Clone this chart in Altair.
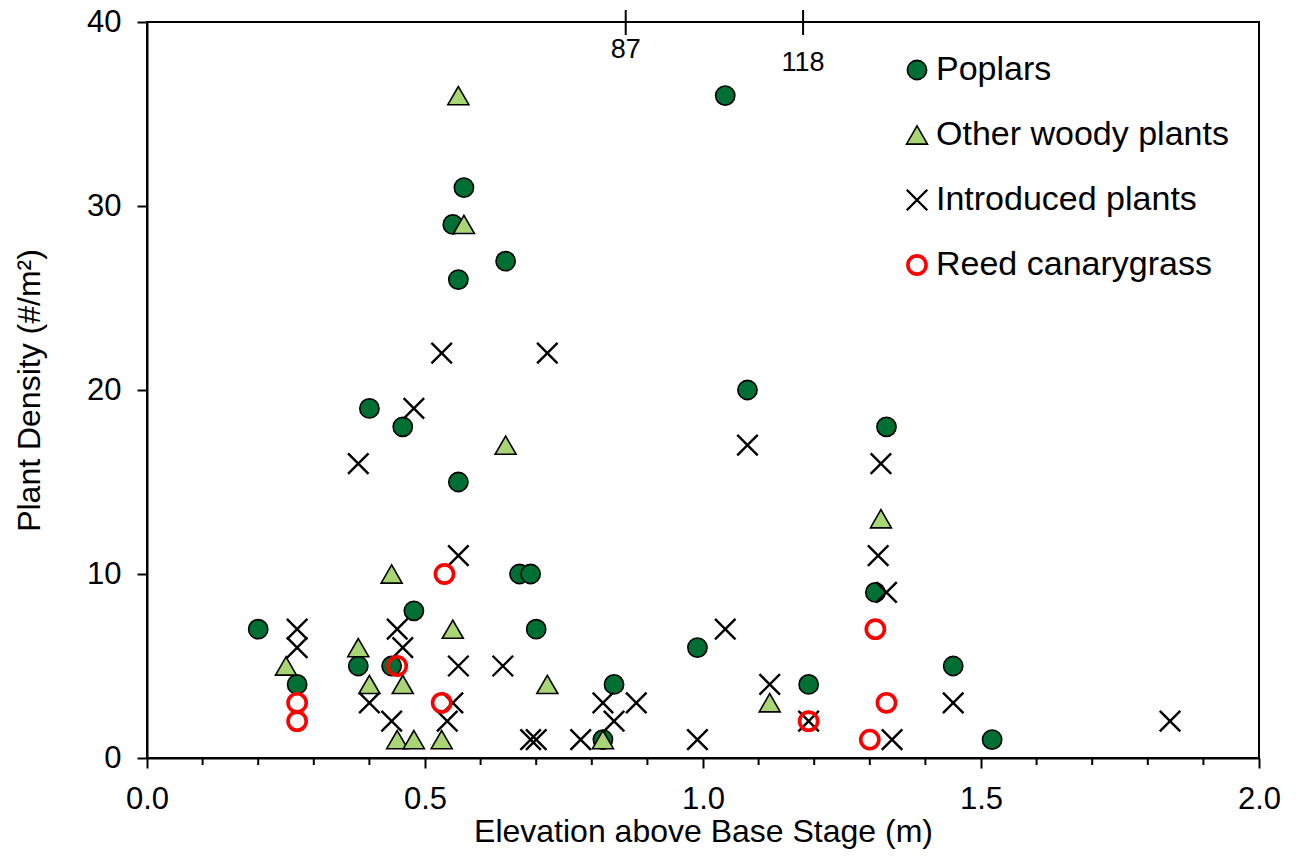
import altair as alt
import pandas as pd

series_names = ["Poplars", "Other woody plants", "Introduced plants", "Reed canarygrass"]

poplars_x = [0.20, 0.27, 0.38, 0.44, 0.48, 0.67, 0.69, 0.70, 0.99, 0.84, 0.82, 1.19, 1.31, 1.45, 1.52,
             1.04, 0.57, 0.55, 0.645, 0.56, 0.40, 0.46, 0.56, 1.08, 1.33]
poplars_y = [7, 4, 5, 5, 8, 10, 10, 7, 6, 4, 1, 4, 9, 5, 1,
             36, 31, 29, 27, 26, 19, 18, 15, 20, 18]

woody_x = [0.44, 0.55, 0.38, 0.25, 0.40, 0.46, 0.72, 0.45, 0.48, 0.53, 0.82, 1.12, 0.56, 0.57, 0.645, 1.32]
woody_y = [10, 7, 6, 5, 4, 4, 4, 1, 1, 1, 1, 3, 36, 29, 17, 13]

intro_x = [0.27, 0.27, 0.38, 0.40, 0.44, 0.45, 0.46, 0.48, 0.53, 0.54, 0.55, 0.56, 0.56, 0.64, 0.69, 0.70,
           0.72, 0.78, 0.82, 0.84, 0.88, 0.99, 1.04, 1.08, 1.12, 1.19, 1.315, 1.32, 1.33, 1.34, 1.45, 1.84]
intro_y = [7, 6, 16, 3, 2, 7, 6, 19, 22, 2, 3, 11, 5, 5, 1, 1,
           22, 1, 3, 2, 3, 1, 7, 17, 4, 2, 11, 16, 9, 1, 3, 2]

reed_x = [0.27, 0.27, 0.45, 0.53, 0.535, 1.19, 1.31, 1.33, 1.30]
reed_y = [3, 2, 5, 3, 10, 2, 7, 3, 1]

minor_ticks = [0.1, 0.2, 0.3, 0.4, 0.6, 0.7, 0.8, 0.9, 1.1, 1.2, 1.3, 1.4, 1.6, 1.7, 1.8, 1.9]
top_tick_pos = [0.861, 1.18]
top_tick_labels = ["87", "118"]

rows = []
for name, xs, ys in [(series_names[0], poplars_x, poplars_y),
                     (series_names[1], woody_x, woody_y),
                     (series_names[2], intro_x, intro_y),
                     (series_names[3], reed_x, reed_y)]:
    for a, b in zip(xs, ys):
        rows.append({"elev": a, "dens": b, "series": name, "ord": len(rows)})
df = pd.DataFrame(rows)

W, H = 1112, 736
FONT = "Liberation Sans"
xpath = "M-1,-1L1,1M1,-1L-1,1"

xscale = alt.Scale(domain=[0, 2], nice=False, zero=False)
yscale = alt.Scale(domain=[0, 40], nice=False)

leg = alt.Legend(title=None, orient="none", legendX=753, legendY=31,
                 labelFontSize=34, labelFont=FONT, labelColor="black", rowPadding=31,
                 labelOffset=2, labelLimit=0, symbolOpacity=1)

points = alt.Chart(df).mark_point(opacity=1, filled=False).encode(
    x=alt.X("elev:Q", scale=xscale,
            axis=alt.Axis(title="Elevation above Base Stage (m)", values=[0, 0.5, 1.0, 1.5, 2.0],
                          format=".1f", grid=False, tickSize=10, labelPadding=16, titlePadding=2,
                          titleFontSize=32, labelFlush=False, labelOverlap=False)),
    y=alt.Y("dens:Q", scale=yscale,
            axis=alt.Axis(title="Plant Density (#/m²)", values=[0, 10, 20, 30, 40], grid=False,
                          tickSize=10, labelPadding=16, titlePadding=40, titleFontSize=32,
                          labelFlush=False)),
    shape=alt.Shape("series:N", scale=alt.Scale(domain=series_names,
                    range=["circle", "triangle-up", xpath, "circle"]), legend=leg),
    fill=alt.Fill("series:N", scale=alt.Scale(domain=series_names,
                  range=["#006F33", "#A9D574", "transparent", "transparent"]), legend=leg),
    stroke=alt.Stroke("series:N", scale=alt.Scale(domain=series_names,
                      range=["#000000", "#000000", "#000000", "#FF0000"]), legend=leg),
    strokeWidth=alt.StrokeWidth("series:N", scale=alt.Scale(type="ordinal", domain=series_names,
                                range=[1.6, 1.6, 2.4, 3.6]), legend=leg),
    size=alt.Size("series:N", scale=alt.Scale(type="ordinal", domain=series_names,
                  range=[370, 440, 420, 330]), legend=leg),
    order=alt.Order("ord:Q"),
)

minor_df = pd.DataFrame({"t": minor_ticks})
minor = alt.Chart(minor_df).mark_rule(color="black", strokeWidth=2).encode(
    x=alt.X("t:Q", scale=xscale),
    y=alt.value(H), y2=alt.value(H + 7),
)

top_df = pd.DataFrame({"pos": top_tick_pos, "lab": top_tick_labels})
top_ticks = alt.Chart(top_df).mark_rule(color="black", strokeWidth=2).encode(
    x=alt.X("pos:Q", scale=xscale),
    y=alt.value(-12), y2=alt.value(13),
)
top_lab1 = alt.Chart(top_df).transform_filter(alt.datum.lab == "87").mark_text(
    fontSize=27, font=FONT, baseline="middle", align="center", color="black").encode(
    x=alt.X("pos:Q", scale=xscale), y=alt.value(28), text="lab:N")
top_lab2 = alt.Chart(top_df).transform_filter(alt.datum.lab == "118").mark_text(
    fontSize=27, font=FONT, baseline="middle", align="center", color="black").encode(
    x=alt.X("pos:Q", scale=xscale), y=alt.value(41), text="lab:N")

chart = alt.layer(minor, points, top_ticks, top_lab1, top_lab2).properties(
    width=W, height=H,
    background="white",
    autosize=alt.AutoSizeParams(type="none"),
    padding={"left": 147, "top": 22, "right": 38, "bottom": 109},
).configure_view(stroke="black", strokeWidth=2).configure_axis(
    domainColor="black", domainWidth=2, tickColor="black", tickWidth=2,
    labelFont=FONT, labelFontSize=31, labelColor="black",
    titleFont=FONT, titleFontWeight="normal", titleColor="black",
)

chart.save("out.html", embed_options={"renderer": "svg", "actions": False})
